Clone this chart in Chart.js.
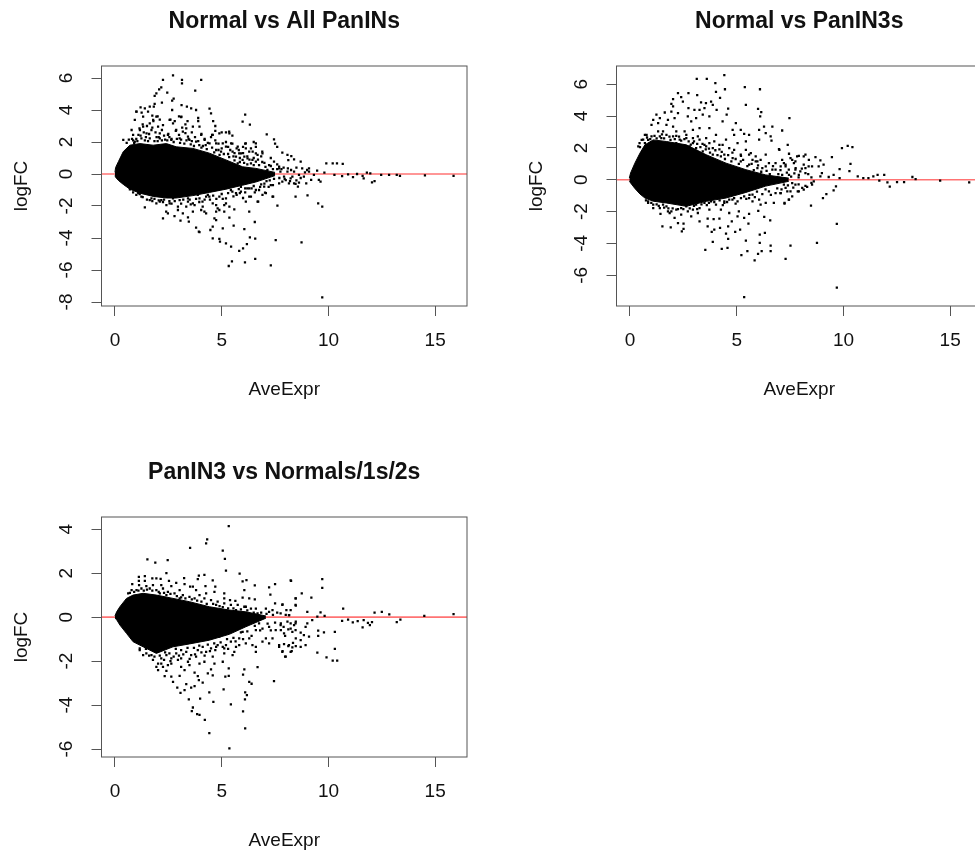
<!DOCTYPE html>
<html>
<head>
<meta charset="utf-8">
<title>MA plots</title>
<script src="https://cdn.jsdelivr.net/npm/chart.js@4/dist/chart.umd.js"></script>
<style>
  html, body { margin: 0; padding: 0; background: #fff; overflow: hidden; width: 975px; height: 851px; }
  canvas { position: absolute; filter: blur(0.35px); }
</style>
</head>
<body>
<canvas id="plot1" width="471" height="425" style="left:0;top:0"></canvas>
<canvas id="plot2" width="471" height="425" style="left:515px;top:0"></canvas>
<canvas id="plot3" width="471" height="425" style="left:0;top:451px"></canvas>
<script>
'use strict';

const titles = ['Normal vs All PanINs', 'Normal vs PanIN3s', 'PanIN3 vs Normals/1s/2s'];
const xTicks = [0, 5, 10, 15];
const yTicks1 = [-8, -6, -4, -2, 0, 2, 4, 6];
const yTicks2 = [-6, -4, -2, 0, 2, 4, 6];
const yTicks3 = [-6, -4, -2, 0, 2, 4];
const zeroX = [-0.63, 16.49];
const zeroY = [0, 0];

const core1X = [0, 0.03, 0.16, 0.39, 0.7, 1.17, 1.79, 2.41, 2.87, 3.65, 4.43, 5.2, 5.98, 6.6, 7.5];
const core1Up = [0.1, 0.4, 0.77, 1.4, 1.8, 1.9, 1.8, 1.9, 1.7, 1.6, 1.3, 0.88, 0.45, 0.35, 0.1];
const core1Lo = [-0.1, -0.2, -0.4, -0.65, -0.95, -1.2, -1.4, -1.5, -1.5, -1.35, -1.15, -0.95, -0.7, -0.5, -0.1];

const core2X = [-0.03, 0.03, 0.23, 0.47, 0.7, 1.09, 1.7, 2.64, 3.57, 4.5, 5.43, 6.36, 7.44];
const core2Up = [0.1, 0.42, 1.04, 1.67, 2.19, 2.5, 2.4, 2.19, 1.57, 1.04, 0.63, 0.3, 0.1];
const core2Lo = [-0.1, -0.2, -0.55, -0.9, -1.15, -1.35, -1.46, -1.67, -1.36, -1.15, -0.8, -0.4, -0.1];

const core3X = [0, 0.08, 0.23, 0.54, 0.85, 1.32, 1.94, 2.72, 3.49, 4.42, 5.36, 6.13, 7.07];
const core3Up = [0.05, 0.24, 0.47, 0.85, 1, 1.08, 1, 0.85, 0.7, 0.47, 0.32, 0.24, 0.05];
const core3Lo = [-0.05, -0.12, -0.36, -0.74, -1.12, -1.35, -1.65, -1.35, -1.22, -1.05, -0.78, -0.44, -0.05];

// single points outside the solid part
const pts1 = [
  [2.72,6.17],[2.25,5.88],[3.14,5.88],[3.14,5.67],[4.04,5.88],[3.76,5.21],[2.45,5.08],[2.17,5.42],[2.07,5.29],[1.94,5.04],
  [1.86,4.88],[2.75,4.71],[2.68,4.58],[2.2,4.46],[1.86,4.38],[3.12,4.31],[3.37,4.21],[3.57,4.1],[3.8,4],[4.43,4.08],
  [4.5,3.79],[2.68,4],[1.82,4.21],[1.63,4.21],[1.4,4.1],[1.2,4.17],[1,3.9],[1.25,3.83],[1.55,3.9],[1.75,3.65],
  [2,3.6],[2.1,3.4],[2.6,3.4],[2.8,3.3],[3,3.6],[3.1,3.55],[3.4,3.3],[3.3,3.1],[3.9,3.5],[3.9,3.3],
  [4.6,3.3],[4.7,3],[4.7,2.7],[5,2.6],[5.2,2.6],[5.35,2.65],[4.55,2.45],[5.5,2.4],[6.1,3.71],[5.98,3.27],
  [6.32,3.08],[7.11,2.48],[7.45,2.17],[7.5,1.9],[7.6,1.7],[6.1,1.9],[6,1.7],[6.5,2],[6.6,1.7],[6.45,1.4],
  [6.9,1.4],[5.5,1.9],[5.7,1.6],[5.3,1.7],[0.85,2.1],[1,2.2],[0.9,1.95],[1.2,2.4],[1.15,2.85],[1.3,3.1],
  [1.5,3],[1.35,2.6],[1.6,2.5],[1.75,2.9],[1.8,3.3],[1.9,2.6],[2.05,2.3],[2.2,2.75],[2.35,2.15],[2.5,2.5],
  [2.65,2.2],[2.85,2.7],[3,2.45],[3.15,2.9],[3.3,2.55],[3.45,2.2],[3.6,2.6],[3.75,2.3],[3.9,2.05],[4.05,2.5],
  [4.2,2.2],[4.35,1.95],[4.5,2.3],[4.7,2.1],[4.85,1.9],[5,1.6],[5.2,2],[5.4,1.5],[5.6,1.3],[5.8,1.5],
  [6,1.3],[6.2,1.1],[6.3,0.9],[6.5,1],[6.7,0.9],[6.85,1.1],[7,0.7],[7.3,1],[7.6,0.6],[7.8,0.3],
  [9.9,0.67],[10.2,0.67],[10.4,0.67],[10.67,0.63],[9.81,0.08],[10.28,-0.06],[10.64,-0.13],[10.92,-0.02],[11.15,-0.2],[11.34,0],
  [11.6,-0.12],[11.65,-0.27],[11.8,0.08],[11.96,0.04],[12.04,-0.52],[12.16,-0.44],[12.47,-0.06],[12.84,-0.06],[13.2,-0.06],[13.35,-0.12],
  [14.52,-0.08],[15.86,-0.12],[7.84,1.33],[8.08,1.2],[8.26,1.12],[8.39,0.92],[8.7,0.77],[8.12,0.87],[7.69,0.46],[8.77,0.35],
  [9,0.25],[9.47,0.21],[9.09,0.35],[9.32,-0.06],[9.55,-0.37],[9.63,-0.48],[9.19,-0.37],[8.96,-0.58],[8.57,-0.79],[8.62,-0.54],
  [8.46,-0.62],[8.15,-0.58],[7.84,-0.48],[7.92,-0.17],[8.31,-0.17],[8.85,-0.17],[8.46,-1.42],[9.02,-1.33],[9.52,-1.83],[9.71,-2.04],
  [7.61,-1.98],[7.41,-1.42],[7.03,-1.17],[6.71,-1.73],[6.29,-2.35],[6.55,-3],[6.06,-3.44],[5.56,-3.23],[6.57,-4.04],[6.32,-3.96],
  [6.18,-4.38],[6,-4.65],[5.82,-4.81],[7.53,-4.13],[8.74,-4.27],[6.57,-5.31],[6.09,-5.52],[5.48,-5.46],[5.33,-5.75],[7.3,-5.71],
  [9.71,-7.71],[5.44,-4.54],[5.2,-4.33],[4.92,-4.23],[4.89,-4.06],[4.58,-4.02],[4.47,-3.5],[4.58,-3.29],[5.05,-3.4],[5.36,-2.73],
  [4.74,-2.88],[4.66,-2.77],[3.96,-3.63],[1.4,-2.08],[2.25,-2.77],[2.48,-2.46],[2.79,-2.63],[3.07,-2.92],[3.42,-2.71],[3.46,-2.98],
  [3.8,-3.35],[3.93,-3.6],[2.4,-2.35],[2.95,-2.25],[3.18,-2.46],[3.65,-2.35],[3.73,-1.94],[4.1,-1.73],[4.19,-2.35],[4.04,-2.25],
  [4.27,-2.46],[4.74,-2.35],[5.12,-2.35],[4.89,-2.25],[5.36,-2.04],[5.59,-2.21],[5.2,-1.83],[4.74,-1.94],[6.13,-1.73],[6.68,-1.73],
  [6.29,-1.42],[7.38,-1.42],[6.91,-1.31],[1.16,-1.25],[1.71,-1.52],[2.1,-1.73],[2.56,-1.83],[3.03,-1.63],[3.42,-1.73],[3.96,-1.52],
  [4.42,-1.42],[5.9,-1.1],[6.2,-0.9],[6.4,-0.9],[6.6,-1],[6.8,-0.8],[7,-0.6],[7.2,-0.8],[7.4,-0.7],[5.7,-1.3],[6,-1.5]
];

// busy rim right next to the solid part
const rim1 = [
  [0.39,2.13],[0.78,2.75],[0.85,2.44],[0.93,3.38],[1.01,3.9],[1.32,3.58],[1.17,2.75],[1.32,2.96],[1.48,2.54],[1.63,3.17],
  [1.71,2.75],[1.79,3.38],[1.94,3.58],[2.02,2.96],[2.1,2.54],[2.25,3.06],[2.48,2.44],[2.56,3.38],[2.72,3.17],[2.87,2.75],
  [3.11,3.58],[3.18,2.65],[3.34,2.85],[3.42,2.33],[3.65,2.96],[3.96,2.96],[4.04,2.44],[4.2,2.13],[4.58,2.44],[4.89,2.54],
  [5.36,2.54],[5.05,1.92],[5.44,1.92],[5.75,1.71],[5.2,1.71],[4.74,1.92],[4.43,1.92],[3.8,2.02],[3.49,2.13],[3.03,2.23],
  [2.64,2.13],[2.1,2.23],[1.63,2.23],[1.24,2.23],[0.93,2.02],[6.13,1.92],[6.13,1.6],[6.37,1.6],[6.6,1.92],[6.6,1.29],
  [5.9,1.29],[5.67,1.08],[6.21,0.98],[5.98,0.88],[5.75,0.67],[6.37,0.67],[6.6,0.77],[5.51,1.4],[4.97,1.4],[4.74,1.5],
  [4.12,1.75],[0.7,-0.96],[1.09,-1.2],[1.24,-1.42],[1.63,-1.63],[1.94,-1.83],[2.17,-1.63],[2.41,-1.94],[2.72,-1.52],[2.95,-2.04],
  [3.34,-2.04],[3.42,-1.52],[3.65,-1.83],[3.88,-1.31],[4.11,-2.04],[4.27,-1.42],[4.58,-1.83],[4.81,-2.15],[5.12,-1.94],[5.2,-1.52],
  [5.43,-1],[5.67,-1.2],[5.9,-0.8],[6.37,-1.42],[6.75,-1],[7.07,-1.2],[7.3,-0.69],[7.69,-0.58],[8,-0.38],[8.39,-0.58],
  [6.99,-0.79],[6.29,-0.9],[4.89,-1.42],[5.82,1.29],[6.06,1.08],[6.29,1.4],[6.44,0.88],[6.68,1.19],[6.91,1.29],[7.22,0.56],
  [7.45,0.77],[7.69,0.35],[7.14,0.25],[8.08,0.15],[8.39,0.15],[8.62,-0.06],[8.23,-0.27],[9.09,0.15],
  [0.55,1.95],[0.65,2.15],[0.8,2.2],[1.05,2.05],[1.1,2.45],[1.4,2.1],[1.45,2.3],[1.55,2.05],[1.85,2.05],[1.95,2.3],
  [2,2.05],[2.2,2.1],[2.3,2.4],[2.45,2.1],[2.55,2.3],[2.75,2],[2.9,2.2],[3.05,1.95],[3.1,2.15],[3.25,1.9],
  [3.35,2.1],[3.55,1.85],[3.6,2.05],[3.7,1.75],[3.95,1.8],[4.05,1.65],[4.25,1.8],[4.3,1.55],[4.55,1.65],[4.65,1.35],
  [4.85,1.5],[4.9,1.2],[5.1,1.25],[5.3,1.25],[5.35,1.05],[5.55,1.1],[5.6,0.85],[5.85,1],[5.85,0.75],[6.05,0.7],
  [6.2,0.6],[6.5,0.55],[6.75,0.55],[6.9,0.75],[7.05,0.45],[7.3,0.5],[7.4,0.3],[7.6,0.3],[7.75,0.15],[7.9,0.4],
  [8.1,0.35],[8.25,0.25],[8.5,0.4],[8.9,0.1],[0.85,-1.15],[1,-1.3],[1.3,-1.45],[1.5,-1.6],[1.75,-1.7],[1.85,-1.55],
  [2.05,-1.65],[2.25,-1.75],[2.3,-1.6],[2.55,-1.7],[2.65,-1.85],[2.8,-1.7],[3.1,-1.85],[3.2,-1.6],[3.5,-1.6],[3.55,-1.9],
  [3.8,-1.55],[3.95,-1.75],[4.2,-1.6],[4.35,-1.3],[4.45,-1.6],[4.6,-1.35],[4.75,-1.55],[5,-1.25],[5.05,-1.55],[5.3,-1.2],
  [5.5,-1.1],[5.55,-1.4],[5.8,-0.95],[5.85,-1.2],[6.1,-0.9],[6.1,-1.15],[6.5,-0.75],[6.55,-1.15],[6.85,-0.65],[7.1,-0.45],
  [7.25,-0.4],[7.45,-0.3],[7.7,-0.25],[7.95,-0.3],[8.2,-0.45],[8.5,-0.4],[8.7,-0.25]
];

const pts2 = [
  [4.42,6.56],[3.13,6.33],[3.6,6.33],[4,6.06],[4.45,5.68],[4.03,5.52],[5.38,5.81],[6.09,5.68],[4.22,5.14],[3.15,5.31],
  [2.74,5.43],[2.25,5.43],[2.4,5.18],[2.02,5.06],[2.48,4.91],[1.94,4.76],[2.02,4.6],[3.33,4.85],[3.56,4.81],[3.8,4.91],
  [3.88,4.7],[3.49,4.49],[2.74,4.49],[3.02,4.39],[3.26,4.39],[4.06,4.39],[4.6,4.47],[4.53,4.08],[5.43,4.7],[6,4.45],
  [6.15,4.24],[6.1,3.97],[7.47,3.87],[1.24,4.08],[1.63,4.22],[1.94,4.28],[2.25,4.18],[1.09,3.76],[1.4,3.87],[1.78,3.76],
  [2.09,3.87],[1.01,3.45],[1.32,3.55],[1.71,3.45],[2.02,3.34],[2.71,3.97],[2.87,3.66],[3.1,3.87],[3.41,4.08],[3.72,3.97],
  [4.34,3.66],[4.96,3.55],[6.67,3.34],[6.28,3.34],[7.13,3.09],[6.05,3.13],[5.58,2.82],[6.36,2.93],[6.59,2.72],[6.05,2.51],
  [6.63,2.45],[7.39,2.19],[6.98,1.92],[5.19,3.13],[4.81,3.13],[5.35,2.88],[4.88,2.82],[5.43,2.4],[5.04,2.3],[4.5,2.51],
  [4.03,2.82],[3.72,3.24],[3.26,3.24],[2.95,3.13],[2.56,3.03],[2.17,3.03],[1.55,3.03],[1.4,2.72],[1.71,2.82],[2.17,2.75],
  [2.64,2.61],[3.18,2.72],[3.57,2.61],[3.95,2.4],[4.34,2.19],[0.78,2.82],[0.85,2.5],[0.47,2.05],[0.7,2.3],[2.95,2.3],
  [3.57,2.1],[4.19,1.9],[4.8,1.7],[5.2,1.5],[5.89,1.46],[6.36,1.57],[6.82,1.04],[7.13,1.25],[7.52,1.36],[7.83,1.46],
  [8.14,1.46],[7.75,1.15],[7.29,0.94],[6.67,0.63],[6.2,0.73],[5.97,1.15],[5.58,1.57],[5.74,1.25],[7.44,0.63],[7.98,0.52],
  [8.37,0.84],[7,1.88],[7.45,1.63],[7.91,1.5],[8.22,1.57],[8.38,1.25],[8.69,1.42],[8.92,1.21],[9.07,0.94],[8.84,0.84],
  [8.53,0.84],[8.22,0.73],[8.14,0.94],[7.76,0.73],[7.6,1.25],[7.21,1.04],[7.06,0.84],[7.68,1.04],[7.91,0.31],[7.45,0.31],
  [8.92,0.21],[9.31,0.17],[9.54,0.31],[8.99,0.42],[9.46,1.42],[9.93,1.99],[10.2,2.13],[10.42,2.05],[10.33,1],[9.82,0.67],
  [10.28,0.54],[9.82,0.1],[10.67,0.21],[10.93,0.1],[11.17,0.1],[11.4,0.21],[11.6,0.31],[11.91,0.31],[11.68,-0.06],[12.06,-0.17],
  [12.17,-0.44],[12.51,-0.15],[12.84,-0.15],[13.23,0.17],[13.38,0.04],[14.53,-0.06],[15.89,-0.17],[7.24,-1.5],[7.45,-1.25],[7.6,-1.04],
  [7.37,-0.73],[7.06,-0.84],[7.91,-0.73],[8.07,-0.52],[8.22,-0.38],[8.53,-0.31],[8.61,-0.1],[8.48,-1.63],[9.04,-1.15],[9.2,-0.9],
  [9.54,-0.67],[9.65,-0.42],[7.52,-4.14],[8.76,-3.97],[9.69,-2.78],[7.29,-4.97],[9.69,-6.77],[7.6,-0.21],[7.21,-0.31],[5.35,-7.38],
  [6.59,-4.14],[6.59,-4.49],[6.17,-4.49],[6,-4.66],[5.84,-5.06],[5.5,-4.49],[5.22,-4.74],[4.57,-4.28],[4.3,-4.35],[3.53,-4.41],
  [3.88,-3.91],[4.6,-3.72],[5.43,-3.82],[6.08,-3.97],[6.08,-3.45],[6.32,-3.34],[4.5,-3.39],[3.83,-3.28],[3.95,-3.13],[3.64,-2.93],
  [4.22,-3.03],[4.6,-2.93],[4.93,-3.28],[5.16,-3.13],[5.55,-2.76],[6.57,-2.55],[6.29,-2.34],[6.01,-1.96],[5.35,-2.4],[5.04,-2.3],
  [4.77,-2.61],[4.19,-2.45],[3.92,-2.47],[3.64,-2.45],[3.26,-2.61],[2.51,-2.76],[2.43,-3.24],[2.51,-3.09],[1.91,-2.99],[1.52,-2.93],
  [2.25,-2.72],[2.09,-2.4],[1.43,-2.15],[1.86,-2.09],[2.4,-2.19],[2.87,-2.3],[3.18,-2.09],[3.72,-1.88],[4.26,-1.88],[4.65,-2.09],
  [5.1,-1.99],[5.58,-2.15],[6.12,-1.57],[6.36,-1.46],[6.74,-1.46],[7.24,-1.46],[7.44,-1.25],[7.86,-0.73],[7.52,-0.73],[7.05,-0.84],
  [1.09,-1.78],[0.85,-1.46],[1.55,-1.57],[1.78,-1.99],[2.64,-1.67],[3.1,-1.57],[3.64,-1.15],[4.42,-1.36],[4.88,-1.15],[5.58,-1.15]
];

const rim2 = [
  [0.39,2.09],[0.62,2.51],[0.7,2.82],[1.01,2.72],[1.32,3.03],[1.47,2.61],[2.02,2.72],[2.33,2.51],[2.64,2.82],[2.95,2.61],
  [3.26,2.51],[3.49,2.19],[3.72,2.3],[3.88,1.99],[4.19,2.19],[4.42,1.57],[4.65,1.99],[4.88,1.88],[5.19,1.57],[5.43,1.88],
  [5.66,1.67],[5.89,1.15],[6.12,1.25],[6.51,1.04],[6.82,0.63],[7.13,0.31],[7.75,0.63],[8.22,0.42],[0.93,2.3],[2.17,2.3],
  [2.79,2.09],[3.1,1.99],[3.41,1.78],[3.88,1.57],[4.26,1.46],[4.81,1.36],[5.19,1.15],[5.58,0.94],[5.97,0.73],[6.36,0.84],
  [7.29,0.84],[0.85,-1.36],[1.09,-1.57],[1.4,-1.78],[1.71,-1.67],[1.94,-1.99],[2.17,-1.88],[2.4,-1.78],[2.71,-1.99],[2.95,-1.88],
  [3.26,-1.78],[3.49,-1.46],[3.8,-1.36],[4.03,-1.57],[4.42,-1.46],[4.65,-1.25],[5.04,-1.36],[5.35,-1.04],[5.74,-0.94],[6.05,-1.25],
  [6.51,-0.73],[6.82,-0.84],[7.29,-0.52],[7.75,-0.31],[8.14,-0.63],[5.74,-1.36],
  [0.45,2.3],[0.55,2.5],[0.8,2.65],[0.95,2.55],[1.15,2.75],[1.25,2.6],[1.5,2.85],[1.6,2.6],[1.85,2.7],[1.9,2.5],
  [2.1,2.55],[2.3,2.7],[2.4,2.45],[2.55,2.55],[2.75,2.4],[2.85,2.2],[3,2.4],[3.15,2.25],[3.3,2.05],[3.4,2.25],
  [3.55,1.9],[3.7,1.95],[3.75,1.7],[4,1.85],[4.1,1.55],[4.3,1.75],[4.45,1.3],[4.6,1.55],[4.75,1.15],[4.95,1.3],
  [5.1,1],[5.3,1.25],[5.5,0.85],[5.7,1],[5.8,0.6],[6,0.9],[6.15,0.5],[6.4,0.55],[6.55,0.35],[6.7,0.85],
  [6.95,0.35],[7.05,0.6],[7.35,0.45],[7.55,0.2],[7.7,0.4],[7.9,0.15],[8.05,0.7],[8.35,0.35],[8.5,0.15],[0.75,-1.3],
  [1,-1.45],[1.25,-1.55],[1.35,-1.65],[1.6,-1.75],[1.8,-1.8],[2,-1.8],[2.25,-1.85],[2.5,-1.85],[2.8,-1.8],[3,-1.65],
  [3.15,-1.85],[3.35,-1.55],[3.6,-1.6],[3.7,-1.45],[3.95,-1.4],[4.2,-1.3],[4.35,-1.6],[4.55,-1.4],[4.8,-1.25],[4.95,-1.5],
  [5.2,-1.15],[5.45,-1.2],[5.6,-0.95],[5.85,-1.1],[5.95,-0.75],[6.2,-0.9],[6.35,-0.6],[6.6,-0.95],[6.9,-0.55],[7.1,-0.6],
  [7.4,-0.35],[7.65,-0.5],[7.9,-0.3],[8.3,-0.45],[8.5,-0.2]
];

const pts3 = [
  [5.33,4.14],[4.32,3.53],[4.27,3.35],[3.52,3.15],[5.05,3.02],[5.15,2.65],[1.52,2.62],[1.89,2.48],[2.47,2.59],[5.2,2.11],
  [2.41,2],[5.84,1.98],[8.23,1.67],[3.24,1.77],[4.19,1.92],[3.93,1.89],[3.88,1.73],[4.58,1.67],[4.7,1.39],[4.24,1.41],
  [3.65,1.39],[3.52,1.39],[3.26,1.5],[2.87,1.56],[2.53,1.65],[2.14,1.74],[1.94,1.76],[1.75,1.76],[1.4,1.86],[1.12,1.83],
  [1.12,1.65],[0.81,1.5],[1.4,1.65],[1.78,1.45],[1.13,1.45],[1.47,1.41],[2.17,1.45],[2.64,1.41],[3.03,1.23],[3.8,1.23],
  [4.27,1.08],[4.66,1.15],[5.12,1.08],[5.98,1.62],[6.16,1.68],[6.55,1.44],[6.06,1.23],[7.22,1.35],[7.5,1.5],[7.28,1.02],
  [5.98,0.89],[6.29,0.85],[6.55,0.8],[5.12,0.85],[5.39,0.77],[5.64,0.74],[8.46,0.85],[8.46,0.55],[7.5,0.62],[7.84,0.55],
  [7.07,0.39],[7.38,0.32],[6.6,0.39],[6.13,0.47],[8.15,0.09],[5.36,-5.97],[4.42,-5.27],[6.1,-5.06],[4.21,-4.67],[3.96,-4.45],
  [3.85,-4.41],[3.6,-4.27],[3.65,-4.11],[6,-4.29],[5.43,-3.97],[4.61,-3.85],[3.99,-3.71],[3.46,-3.74],[6.09,-3.74],[6.18,-3.55],
  [6.1,-3.42],[5.09,-3.29],[4.42,-3.42],[3.07,-3.44],[2.92,-3.21],[3.26,-3.32],[3.57,-3.21],[3.73,-3.14],[3.34,-3.05],[4.11,-2.98],
  [3.93,-2.86],[6.4,-3.03],[6.29,-2.95],[7.45,-2.91],[6,-2.61],[6.06,-2.38],[6.68,-2.27],[5.33,-2.67],[5.17,-2.71],[5.33,-2.33],
  [4.58,-2.65],[4.35,-2.56],[4.5,-2.38],[3.88,-2.68],[3.73,-2.52],[2.72,-2.94],[3.03,-2.67],[2.64,-2.71],[2.33,-2.68],[2.41,-2.45],
  [2.02,-2.41],[3.26,-2.41],[3.49,-2.18],[4.66,-2.11],[5.05,-2.03],[4.19,-2.03],[5.51,-1.73],[5.59,-1.58],[6.6,-1.58],[8,-1.8],
  [8.23,-1.58],[7.69,-1.27],[7.22,-1.2],[7.84,-1.58],[7.07,-0.97],[6.6,-1.35],[6.13,-1.2],[5.82,-0.97],[1.32,-1.73],[1.16,-1.42],
  [1.71,-1.73],[2.17,-2.11],[1.94,-2.26],[2.64,-2.11],[2.95,-1.95],[3.8,-1.8],[4.27,-1.58],[4.74,-1.35],[5.2,-1.27],[5.67,-1.35],
  [7.92,-0.74],[8.46,-0.59],[7.53,-0.59],[6.91,-0.52],[8.15,-1.27],[8.25,1.65],[9.71,1.73],[9.71,1.33],[8.75,1.08],[9.2,0.89],
  [8.47,0.85],[7.85,0.58],[8.47,0.52],[8.03,0.32],[9.01,0.24],[8.16,0.09],[9.63,0.21],[10.69,0.38],[12.16,0.2],[12.5,0.24],
  [12.85,0.12],[15.86,0.14],[14.49,0.05],[9.82,0.05],[9.48,0.02],[10.64,-0.17],[10.92,-0.11],[11.14,-0.24],[11.37,-0.18],[11.65,-0.14],
  [11.85,-0.26],[12.04,-0.23],[11.6,-0.47],[11.94,-0.36],[13.2,-0.23],[13.37,-0.11],[9.52,-0.62],[9.52,-0.85],[9.79,-0.7],[10.3,-0.67],
  [9.09,-0.89],[8.93,-1.27],[8.7,-1.35],[9.48,-1.61],[9.91,-1.83],[10.3,-1.45],[10.2,-1.98],[10.41,-1.98],[7.97,-1.8],[8.28,-1.55],
  [7.85,-1.55],[7.69,-1.35],[7.92,-1.23],[8.12,-1.32],[8.31,-1.38],[8.47,-1.32],[8.34,-1.17],[7.97,-0.85],[8.31,-0.67],[8.12,-0.56],
  [8.7,-0.71],[8.85,-0.82],[8.7,-1.05],[8.47,-0.97],[8.23,-0.29],[8.47,-0.21],[8.39,-0.36],[8.08,-0.21],[9.01,-0.29],[9.24,-0.14],
  [8.93,-0.44],[7.77,-0.29],[7.77,-0.59]
];

const rim3 = [
  [0.62,1.08],[0.78,1.23],[1.01,1.23],[1.24,1.3],[1.63,1.3],[1.94,1.23],[2.25,1.3],[2.48,1.15],[2.79,1.08],[3.18,1],
  [3.49,0.92],[3.73,0.85],[3.96,1],[4.19,0.85],[4.5,0.77],[4.81,0.7],[5.12,0.62],[5.43,0.55],[5.75,0.55],[6.06,0.47],
  [6.37,0.39],[6.68,0.17],[7.22,0.24],[7.76,0.17],[8.23,0.32],[3.03,0.85],[2.41,1],[2.1,1.08],[4.74,0.55],[5.67,0.32],
  [1.16,-1.5],[1.47,-1.65],[1.78,-1.95],[2.02,-2.11],[2.17,-1.88],[2.41,-1.73],[2.64,-1.88],[2.87,-1.65],[3.1,-1.88],[3.34,-1.58],
  [3.57,-1.73],[3.88,-1.5],[4.11,-1.35],[4.5,-1.42],[4.81,-1.27],[5.12,-1.42],[5.43,-1.12],[5.98,-0.67],[6.29,-0.97],[6.6,-0.59],
  [6.91,-1.12],[7.38,-0.97],[7.76,-0.36],[8.23,-0.52],[8.46,-0.29],[7.22,-0.44],[6.75,-0.29],[6.44,-1.27],[5.82,-1.27],[4.89,-0.89],
  [2.25,-2.26],[2.48,-2.18],[3.1,-2.26],[3.42,-2.03],[3.96,-2.11],[4.58,-1.8],[5.12,-1.65],
  [0.7,1.1],[0.9,1.15],[1.1,1.2],[1.35,1.2],[1.5,1.25],[1.75,1.2],[2.05,1.15],[2.3,1.1],[2.6,1.05],[2.9,0.95],
  [3.1,0.9],[3.3,0.85],[3.6,0.8],[3.85,0.75],[4.05,0.7],[4.3,0.6],[4.6,0.6],[4.9,0.5],[5.05,0.45],[5.3,0.4],
  [5.55,0.4],[5.9,0.35],[6.2,0.3],[6.5,0.2],[6.85,0.2],[7.1,0.15],[7.4,0.1],[7.6,0.2],[8,0.1],[1.45,-1.45],
  [1.6,-1.75],[1.85,-1.8],[2.1,-1.75],[2.3,-1.95],[2.35,-1.6],[2.55,-1.65],[2.6,-2],[2.75,-1.8],[2.85,-1.45],[3,-1.75],
  [3.1,-1.5],[3.2,-1.7],[3.4,-1.4],[3.5,-1.9],[3.7,-1.4],[3.75,-1.7],[3.95,-1.3],[4.05,-1.6],[4.2,-1.75],[4.35,-1.25],
  [4.45,-1.55],[4.65,-1.2],[4.7,-1.5],[4.95,-1.15],[5.05,-1.35],[5.25,-1],[5.3,-1.45],[5.55,-0.95],[5.65,-1.1],[5.9,-0.7],
  [6,-1],[6.2,-0.65],[6.4,-0.85],[6.55,-0.4],[6.8,-0.6],[7.15,-0.3],[7.3,-0.6],[7.5,-0.25],[7.9,-0.45]
];

function toXY(xs, ys) {
  return xs.map((x, i) => ({ x: x, y: ys[i] }));
}

// the box round the plot region
const boxPlugin = {
  id: 'box',
  afterDraw(chart) {
    const a = chart.chartArea;
    const ctx = chart.ctx;
    ctx.save();
    ctx.strokeStyle = '#555';
    ctx.lineWidth = 1;
    ctx.strokeRect(a.left, a.top, a.right - a.left, a.bottom - a.top);
    ctx.restore();
  }
};

function makePlot(id, title, coreX, coreUp, coreLo, pts, yTicks, yMin, yMax) {
  const labelColor = '#111';
  const fontFamily = '"Liberation Sans", Arial, sans-serif';
  const canvas = document.getElementById(id);
  new Chart(canvas, {
    type: 'scatter',
    data: {
      datasets: [
        { data: toXY(coreX, coreUp), showLine: true, fill: '+1', backgroundColor: '#000', borderColor: '#000', borderWidth: 1, pointRadius: 0 },
        { data: toXY(coreX, coreLo), showLine: true, fill: false, borderColor: '#000', borderWidth: 1, pointRadius: 0 },
        { data: pts.map(p => ({ x: p[0], y: p[1] })), pointStyle: 'rect', pointRadius: 1.6, pointBorderWidth: 0, backgroundColor: '#000', borderWidth: 0 },
        { data: toXY(zeroX, zeroY), showLine: true, fill: false, borderColor: 'rgba(255,0,0,0.55)', borderWidth: 1.6, pointRadius: 0 }
      ]
    },
    options: {
      responsive: false,
      animation: false,
      events: [],
      layout: { padding: { right: 2 } },
      plugins: {
        legend: { display: false },
        tooltip: { enabled: false },
        title: {
          display: true,
          text: title,
          fullSize: false,
          color: '#111',
          font: { family: fontFamily, size: 23, weight: 'bold', lineHeight: 1.2 },
          padding: { top: 8, bottom: 30.4 }
        }
      },
      scales: {
        x: {
          type: 'linear',
          min: -0.63,
          max: 16.49,
          afterBuildTicks(scale) { scale.ticks = xTicks.map(v => ({ value: v })); },
          afterFit(scale) { scale.height = canvas.height - 306; },
          grid: { drawOnChartArea: false, drawTicks: true, tickLength: 10, color: '#555' },
          border: { display: false },
          ticks: { autoSkip: false, maxRotation: 0, padding: 13, color: labelColor, font: { family: fontFamily, size: 19 } },
          title: { display: true, text: 'AveExpr', color: labelColor, font: { family: fontFamily, size: 19 }, padding: { bottom: 24 } }
        },
        y: {
          type: 'linear',
          min: yMin,
          max: yMax,
          afterBuildTicks(scale) { scale.ticks = yTicks.map(v => ({ value: v })); },
          afterFit(scale) { scale.width = 101.5; },
          grid: { drawOnChartArea: false, drawTicks: true, tickLength: 10, color: '#555' },
          border: { display: false },
          ticks: { autoSkip: false, minRotation: 90, maxRotation: 90, crossAlign: 'center', padding: 16, color: labelColor, font: { family: fontFamily, size: 19 } },
          title: { display: true, text: 'logFC', color: labelColor, font: { family: fontFamily, size: 19 }, padding: { top: 10 } }
        }
      }
    },
    plugins: [boxPlugin]
  });
}

makePlot('plot1', titles[0], core1X, core1Up, core1Lo, pts1.concat(rim1), yTicks1, -8.25, 6.75);
makePlot('plot2', titles[1], core2X, core2Up, core2Lo, pts2.concat(rim2), yTicks2, -7.93, 7.14);
makePlot('plot3', titles[2], core3X, core3Up, core3Lo, pts3.concat(rim3), yTicks3, -6.36, 4.55);
</script>
</body>
</html>
